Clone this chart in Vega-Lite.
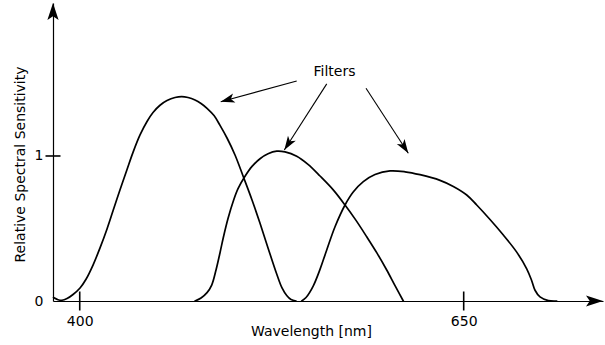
{
  "$schema": "https://vega.github.io/schema/vega-lite/v6.json",
  "width": 550,
  "height": 298,
  "autosize": {"type": "none"},
  "padding": {"left": 53, "top": 3, "right": 2, "bottom": 44},
  "background": "white",
  "config": {"view": {"stroke": null}},
  "datasets": {
    "curves": [
      {"filter": "A", "nm": 382.94, "v": 0.024},
      {"filter": "A", "nm": 385.87, "v": 0.009},
      {"filter": "A", "nm": 388.48, "v": 0.005},
      {"filter": "A", "nm": 391.73, "v": 0.017},
      {"filter": "A", "nm": 395.64, "v": 0.045},
      {"filter": "A", "nm": 400.2, "v": 0.09},
      {"filter": "A", "nm": 404.1, "v": 0.15},
      {"filter": "A", "nm": 408.66, "v": 0.248},
      {"filter": "A", "nm": 413.22, "v": 0.366},
      {"filter": "A", "nm": 417.77, "v": 0.497},
      {"filter": "A", "nm": 421.68, "v": 0.622},
      {"filter": "A", "nm": 426.24, "v": 0.767},
      {"filter": "A", "nm": 430.8, "v": 0.907},
      {"filter": "A", "nm": 434.7, "v": 1.025},
      {"filter": "A", "nm": 439.26, "v": 1.145},
      {"filter": "A", "nm": 443.82, "v": 1.238},
      {"filter": "A", "nm": 447.72, "v": 1.3},
      {"filter": "A", "nm": 452.28, "v": 1.35},
      {"filter": "A", "nm": 456.84, "v": 1.382},
      {"filter": "A", "nm": 462.05, "v": 1.403},
      {"filter": "A", "nm": 466.41, "v": 1.409},
      {"filter": "A", "nm": 470.51, "v": 1.403},
      {"filter": "A", "nm": 475.07, "v": 1.386},
      {"filter": "A", "nm": 478.98, "v": 1.362},
      {"filter": "A", "nm": 482.88, "v": 1.329},
      {"filter": "A", "nm": 487.44, "v": 1.279},
      {"filter": "A", "nm": 491.35, "v": 1.211},
      {"filter": "A", "nm": 495.9, "v": 1.124},
      {"filter": "A", "nm": 501.11, "v": 1.007},
      {"filter": "A", "nm": 506.52, "v": 0.857},
      {"filter": "A", "nm": 512.18, "v": 0.697},
      {"filter": "A", "nm": 517.39, "v": 0.536},
      {"filter": "A", "nm": 522.6, "v": 0.366},
      {"filter": "A", "nm": 528.26, "v": 0.186},
      {"filter": "A", "nm": 531.71, "v": 0.09},
      {"filter": "A", "nm": 534.77, "v": 0.038},
      {"filter": "A", "nm": 537.57, "v": 0.01},
      {"filter": "A", "nm": 540.83, "v": 0.0},
      {"filter": "B", "nm": 475.07, "v": 0.0},
      {"filter": "B", "nm": 478.98, "v": 0.021},
      {"filter": "B", "nm": 482.88, "v": 0.058},
      {"filter": "B", "nm": 485.94, "v": 0.11},
      {"filter": "B", "nm": 488.74, "v": 0.214},
      {"filter": "B", "nm": 491.35, "v": 0.333},
      {"filter": "B", "nm": 493.5, "v": 0.438},
      {"filter": "B", "nm": 496.55, "v": 0.569},
      {"filter": "B", "nm": 500.01, "v": 0.69},
      {"filter": "B", "nm": 503.07, "v": 0.775},
      {"filter": "B", "nm": 507.62, "v": 0.86},
      {"filter": "B", "nm": 512.18, "v": 0.928},
      {"filter": "B", "nm": 517.39, "v": 0.981},
      {"filter": "B", "nm": 522.6, "v": 1.015},
      {"filter": "B", "nm": 528.26, "v": 1.033},
      {"filter": "B", "nm": 533.67, "v": 1.028},
      {"filter": "B", "nm": 541.28, "v": 0.998},
      {"filter": "B", "nm": 548.64, "v": 0.942},
      {"filter": "B", "nm": 556.45, "v": 0.862},
      {"filter": "B", "nm": 564.92, "v": 0.768},
      {"filter": "B", "nm": 572.73, "v": 0.662},
      {"filter": "B", "nm": 579.89, "v": 0.556},
      {"filter": "B", "nm": 586.86, "v": 0.443},
      {"filter": "B", "nm": 593.57, "v": 0.33},
      {"filter": "B", "nm": 599.88, "v": 0.214},
      {"filter": "B", "nm": 605.29, "v": 0.106},
      {"filter": "B", "nm": 610.69, "v": 0.0},
      {"filter": "C", "nm": 544.54, "v": 0.0},
      {"filter": "C", "nm": 547.34, "v": 0.024},
      {"filter": "C", "nm": 552.09, "v": 0.105},
      {"filter": "C", "nm": 556.45, "v": 0.218},
      {"filter": "C", "nm": 560.82, "v": 0.352},
      {"filter": "C", "nm": 566.22, "v": 0.512},
      {"filter": "C", "nm": 572.73, "v": 0.662},
      {"filter": "C", "nm": 577.94, "v": 0.75},
      {"filter": "C", "nm": 584.64, "v": 0.823},
      {"filter": "C", "nm": 592.26, "v": 0.872},
      {"filter": "C", "nm": 602.03, "v": 0.897},
      {"filter": "C", "nm": 611.8, "v": 0.891},
      {"filter": "C", "nm": 621.56, "v": 0.871},
      {"filter": "C", "nm": 634.58, "v": 0.832},
      {"filter": "C", "nm": 643.24, "v": 0.79},
      {"filter": "C", "nm": 651.97, "v": 0.731},
      {"filter": "C", "nm": 658.48, "v": 0.662},
      {"filter": "C", "nm": 667.14, "v": 0.562},
      {"filter": "C", "nm": 675.8, "v": 0.455},
      {"filter": "C", "nm": 684.52, "v": 0.337},
      {"filter": "C", "nm": 691.03, "v": 0.222},
      {"filter": "C", "nm": 694.29, "v": 0.14},
      {"filter": "C", "nm": 696.44, "v": 0.074},
      {"filter": "C", "nm": 699.69, "v": 0.028},
      {"filter": "C", "nm": 705.1, "v": 0.003},
      {"filter": "C", "nm": 710.57, "v": 0.0}
    ],
    "xticks": [{"nm": 400, "v": 0}, {"nm": 650, "v": 0}],
    "yticks": [{"nm": 382.6, "v": 1}],
    "axisEnds": [{"axis": "y", "nm": 382.6, "v": 2.055}, {"axis": "x", "nm": 740.7, "v": 0}],
    "pointers": [
      {"id": 1, "nm": 541.28, "v": 1.517, "nm2": 491.8, "v2": 1.374},
      {"id": 2, "nm": 560.82, "v": 1.497, "nm2": 533.21, "v2": 1.041},
      {"id": 3, "nm": 586.4, "v": 1.467, "nm2": 613.94, "v2": 1.019}
    ],
    "labels": [{"text": "Filters", "nm": 565.89, "v": 1.579}]
  },
  "encoding": {
    "x": {
      "field": "nm", "type": "quantitative",
      "scale": {"domain": [382.6, 740.7], "nice": false, "zero": false},
      "axis": {
        "values": [400, 650], "ticks": false, "tickSize": 0, "grid": false,
        "domainColor": "black", "domainWidth": 1.2,
        "labelFont": "DejaVu Sans", "labelFontSize": 14, "labelColor": "black",
        "labelPadding": 13, "labelFlush": false, "labelOverlap": false,
        "title": "Wavelength [nm]", "titleFont": "DejaVu Sans", "titleFontSize": 14,
        "titleFontWeight": "normal", "titleColor": "black",
        "titleX": 258, "titleY": 30.7, "titleBaseline": "middle", "titleAlign": "center"
      }
    },
    "y": {
      "field": "v", "type": "quantitative",
      "scale": {"domain": [0, 2.055], "nice": false, "zero": false},
      "axis": {
        "values": [0, 1], "ticks": false, "tickSize": 0, "grid": false,
        "domainColor": "black", "domainWidth": 1.2,
        "labelFont": "DejaVu Sans", "labelFontSize": 14, "labelColor": "black",
        "labelPadding": 10, "labelFlush": false, "labelOverlap": false,
        "title": "Relative Spectral Sensitivity", "titleFont": "DejaVu Sans", "titleFontSize": 14,
        "titleFontWeight": "normal", "titleColor": "black",
        "titleX": -32.3, "titleY": 161, "titleBaseline": "middle", "titleAlign": "center", "titleAngle": -90
      }
    }
  },
  "layer": [
    {
      "data": {"name": "curves"},
      "mark": {"type": "line", "color": "black", "strokeWidth": 1.7, "interpolate": "catmull-rom", "strokeCap": "round"},
      "encoding": {"detail": {"field": "filter", "type": "nominal"}}
    },
    {
      "data": {"name": "xticks"},
      "mark": {"type": "tick", "orient": "vertical", "color": "black", "size": 19, "thickness": 1.6, "opacity": 1}
    },
    {
      "data": {"name": "yticks"},
      "mark": {"type": "tick", "orient": "horizontal", "color": "black", "size": 15, "thickness": 1.6, "opacity": 1}
    },
    {
      "data": {"name": "axisEnds"},
      "transform": [{"filter": "datum.axis === 'y'"}],
      "mark": {"type": "point", "shape": "M0,0 L0.66,2 L0,1.56 L-0.66,2 Z", "size": 289, "filled": true, "color": "black", "opacity": 1, "strokeWidth": 0, "angle": 0}
    },
    {
      "data": {"name": "axisEnds"},
      "transform": [{"filter": "datum.axis === 'x'"}],
      "mark": {"type": "point", "shape": "M0,0 L0.66,2 L0,1.56 L-0.66,2 Z", "size": 289, "filled": true, "color": "black", "opacity": 1, "strokeWidth": 0, "angle": 90}
    },
    {
      "data": {"name": "pointers"},
      "mark": {"type": "rule", "color": "black", "strokeWidth": 1.1},
      "encoding": {
        "x2": {"field": "nm2"},
        "y2": {"field": "v2"}
      }
    },
    {
      "data": {"name": "pointers"},
      "transform": [{"filter": "datum.id === 1"}],
      "mark": {"type": "point", "shape": "M0,0 L0.66,2 L0,1.5 L-0.66,2 Z", "size": 196, "filled": true, "color": "black", "opacity": 1, "strokeWidth": 0, "angle": 254.8},
      "encoding": {
        "x": {"field": "nm2", "type": "quantitative", "scale": {"domain": [382.6, 740.7], "nice": false, "zero": false}},
        "y": {"field": "v2", "type": "quantitative", "scale": {"domain": [0, 2.055], "nice": false, "zero": false}}
      }
    },
    {
      "data": {"name": "pointers"},
      "transform": [{"filter": "datum.id === 2"}],
      "mark": {"type": "point", "shape": "M0,0 L0.66,2 L0,1.5 L-0.66,2 Z", "size": 196, "filled": true, "color": "black", "opacity": 1, "strokeWidth": 0, "angle": 212.7},
      "encoding": {
        "x": {"field": "nm2", "type": "quantitative", "scale": {"domain": [382.6, 740.7], "nice": false, "zero": false}},
        "y": {"field": "v2", "type": "quantitative", "scale": {"domain": [0, 2.055], "nice": false, "zero": false}}
      }
    },
    {
      "data": {"name": "pointers"},
      "transform": [{"filter": "datum.id === 3"}],
      "mark": {"type": "point", "shape": "M0,0 L0.66,2 L0,1.5 L-0.66,2 Z", "size": 196, "filled": true, "color": "black", "opacity": 1, "strokeWidth": 0, "angle": 146.9},
      "encoding": {
        "x": {"field": "nm2", "type": "quantitative", "scale": {"domain": [382.6, 740.7], "nice": false, "zero": false}},
        "y": {"field": "v2", "type": "quantitative", "scale": {"domain": [0, 2.055], "nice": false, "zero": false}}
      }
    },
    {
      "data": {"name": "labels"},
      "mark": {"type": "text", "font": "DejaVu Sans", "fontSize": 14, "color": "black", "align": "center", "baseline": "middle"},
      "encoding": {"text": {"field": "text"}}
    }
  ]
}
